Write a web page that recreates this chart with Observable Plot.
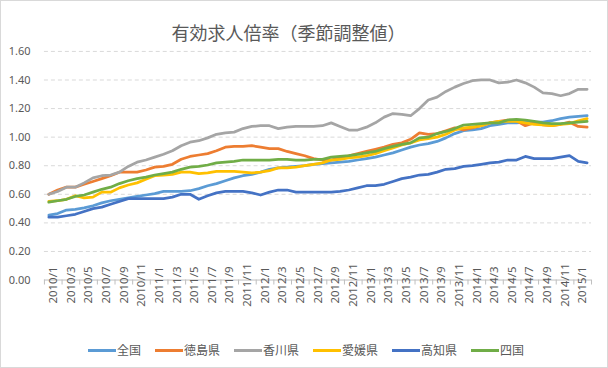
<!DOCTYPE html>
<html><head><meta charset="utf-8">
<script src="https://cdn.jsdelivr.net/npm/d3@7"></script>
<script src="https://cdn.jsdelivr.net/npm/@observablehq/plot@0.6"></script>
<style>
body{margin:0;background:#fff;}
#wrap{position:relative;width:608px;height:368px;box-sizing:border-box;border:1px solid #d9d9d9;overflow:hidden;font-family:"Noto Sans CJK JP",sans-serif;color:#595959;background:#fff;}
#title{position:absolute;top:19px;left:0;width:575px;text-align:center;font-size:18px;line-height:24px;}
#chart{position:absolute;left:-1px;top:-1px;}
#legend{position:absolute;top:340px;left:0;width:610px;display:flex;justify-content:center;gap:14px;font-size:12px;line-height:18px;}
.item{display:flex;align-items:center;}
.sw{width:28px;height:3px;margin-right:1px;}
</style></head>
<body>
<div id="wrap">
  <div id="chart"></div>
  <div id="title">有効求人倍率（季節調整値）</div>
  <div id="legend"></div>
</div>
<script>
const months = [
"2010/1","2010/2","2010/3","2010/4","2010/5","2010/6","2010/7","2010/8","2010/9","2010/10","2010/11","2010/12",
"2011/1","2011/2","2011/3","2011/4","2011/5","2011/6","2011/7","2011/8","2011/9","2011/10","2011/11","2011/12",
"2012/1","2012/2","2012/3","2012/4","2012/5","2012/6","2012/7","2012/8","2012/9","2012/10","2012/11","2012/12",
"2013/1","2013/2","2013/3","2013/4","2013/5","2013/6","2013/7","2013/8","2013/9","2013/10","2013/11","2013/12",
"2014/1","2014/2","2014/3","2014/4","2014/5","2014/6","2014/7","2014/8","2014/9","2014/10","2014/11","2014/12",
"2015/1","2015/2"];

const zenkoku = [0.455,0.465,0.49,0.495,0.505,0.52,0.54,0.555,0.565,0.575,0.585,0.595,
0.605,0.62,0.62,0.62,0.625,0.64,0.66,0.675,0.695,0.715,0.73,0.74,
0.755,0.775,0.785,0.79,0.795,0.80,0.81,0.815,0.82,0.825,0.83,0.84,
0.85,0.86,0.875,0.89,0.91,0.93,0.945,0.955,0.97,0.995,1.025,1.045,
1.05,1.06,1.08,1.09,1.10,1.10,1.105,1.105,1.105,1.115,1.13,1.14,
1.145,1.15];

const tokushima = [0.60,0.63,0.65,0.65,0.67,0.69,0.71,0.73,0.755,0.755,0.755,0.77,
0.79,0.795,0.81,0.845,0.865,0.875,0.885,0.905,0.93,0.935,0.935,0.94,
0.93,0.92,0.92,0.90,0.885,0.87,0.85,0.84,0.84,0.855,0.87,0.885,
0.90,0.915,0.93,0.95,0.96,0.985,1.03,1.02,1.025,1.045,1.065,1.05,
1.065,1.08,1.10,1.11,1.12,1.115,1.08,1.10,1.085,1.08,1.09,1.105,
1.075,1.07];

const kagawa = [0.60,0.62,0.65,0.65,0.68,0.715,0.73,0.735,0.755,0.795,0.825,0.84,
0.86,0.88,0.905,0.94,0.965,0.975,0.995,1.02,1.03,1.035,1.06,1.075,
1.08,1.08,1.06,1.07,1.075,1.075,1.075,1.08,1.10,1.075,1.05,1.05,
1.07,1.10,1.14,1.165,1.16,1.15,1.20,1.26,1.28,1.32,1.35,1.375,
1.395,1.40,1.40,1.38,1.385,1.40,1.38,1.35,1.31,1.305,1.29,1.305,
1.335,1.335];

const ehime = [0.55,0.555,0.565,0.59,0.575,0.58,0.615,0.615,0.645,0.665,0.68,0.705,
0.73,0.735,0.74,0.755,0.755,0.745,0.75,0.76,0.76,0.76,0.755,0.75,
0.755,0.765,0.785,0.785,0.79,0.80,0.81,0.82,0.84,0.845,0.855,0.86,
0.87,0.885,0.905,0.925,0.945,0.96,0.98,0.99,1.00,1.02,1.05,1.065,
1.07,1.08,1.10,1.11,1.11,1.11,1.10,1.09,1.085,1.08,1.09,1.095,
1.115,1.13];

const kochi = [0.44,0.44,0.45,0.46,0.48,0.50,0.51,0.53,0.55,0.57,0.57,0.57,
0.57,0.57,0.58,0.60,0.60,0.565,0.59,0.61,0.62,0.62,0.62,0.61,
0.595,0.615,0.63,0.63,0.615,0.615,0.615,0.615,0.615,0.62,0.63,0.645,
0.66,0.66,0.67,0.69,0.71,0.72,0.735,0.74,0.755,0.775,0.78,0.795,
0.80,0.81,0.82,0.825,0.84,0.84,0.865,0.85,0.85,0.85,0.86,0.87,
0.83,0.82];

const shikoku = [0.545,0.555,0.565,0.585,0.595,0.615,0.635,0.65,0.675,0.695,0.71,0.72,
0.735,0.745,0.755,0.775,0.79,0.795,0.805,0.82,0.825,0.83,0.84,0.84,
0.84,0.84,0.845,0.845,0.84,0.84,0.845,0.845,0.86,0.865,0.87,0.88,
0.89,0.90,0.92,0.935,0.95,0.96,0.995,1.00,1.025,1.04,1.06,1.085,
1.09,1.095,1.10,1.10,1.12,1.125,1.12,1.11,1.10,1.095,1.095,1.10,
1.105,1.11];

const seriesNames = ["全国","徳島県","香川県","愛媛県","高知県","四国"];
const seriesValues = [zenkoku, tokushima, kagawa, ehime, kochi, shikoku];
const seriesColors = ["#5B9BD5","#ED7D31","#A5A5A5","#FFC000","#4472C4","#70AD47"];
const yTicks = [0, 0.2, 0.4, 0.6, 0.8, 1.0, 1.2, 1.4, 1.6];

const long = [];
seriesNames.forEach((name, k) => seriesValues[k].forEach((v, i) => long.push({i, v, s: name})));
const idx = months.map((m, i) => i);
const labelIdx = idx.filter(i => i % 2 === 0);
const boundaries = idx.filter(i => i % 2 === 0).map(i => i - 0.5).concat([months.length - 0.5]);

const plot = Plot.plot({
  width: 608, height: 368,
  marginTop: 51, marginBottom: 88, marginLeft: 44, marginRight: 16,
  style: {fontFamily: "'Noto Sans', sans-serif", fontSize: "11px", color: "#595959", background: "transparent"},
  x: {domain: [-0.5, months.length - 0.5], axis: null},
  y: {domain: [0, 1.6], axis: null},
  color: {domain: seriesNames, range: seriesColors},
  marks: [
    Plot.ruleY(yTicks.filter(d => d > 0), {stroke: "#d9d9d9", strokeDasharray: "4,3"}),
    Plot.axisY(yTicks, {tickSize: 0, tickPadding: 14, tickFormat: d => d.toFixed(2), fontSize: 11, label: null}),
    Plot.ruleY([0], {stroke: "#bfbfbf"}),
    Plot.axisX(boundaries, {tickSize: 5, tickFormat: () => "", stroke: "#bfbfbf", label: null}),
    Plot.axisX(labelIdx, {tickSize: 0, tickPadding: 5, rotate: -90, tickFormat: d => months[d], fontSize: 11.5, label: null}),
    Plot.line(long, {x: "i", y: "v", z: "s", stroke: "s", strokeWidth: 2.75, strokeLinejoin: "round", strokeLinecap: "round"})
  ]
});
document.getElementById("chart").appendChild(plot);

const legend = document.getElementById("legend");
seriesNames.forEach((name, k) => {
  const item = document.createElement("div");
  item.className = "item";
  const sw = document.createElement("span");
  sw.className = "sw";
  sw.style.background = seriesColors[k];
  const t = document.createElement("span");
  t.textContent = name;
  item.appendChild(sw); item.appendChild(t);
  legend.appendChild(item);
});
</script>
</body></html>
